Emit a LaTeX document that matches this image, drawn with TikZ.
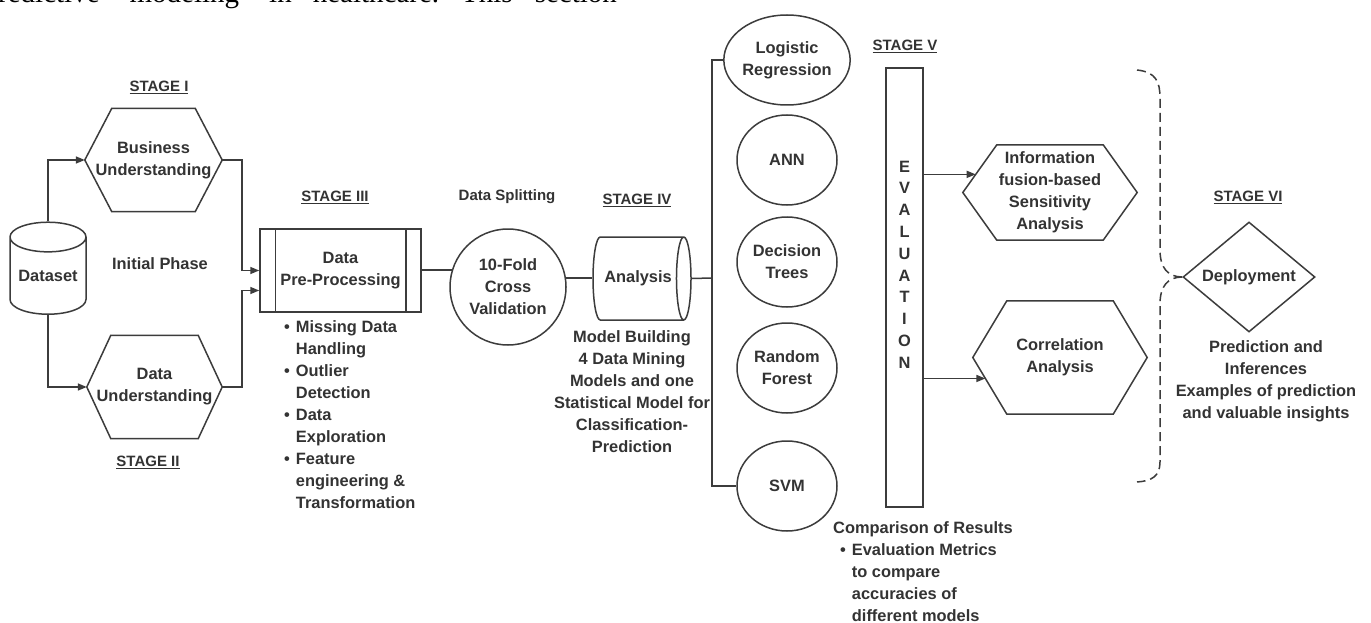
\documentclass[tikz,border=0pt]{standalone}
\usepackage{fontspec}
\setmainfont{Liberation Sans}
\newfontfamily\pageserif{Liberation Serif}
\usepackage{tikz}
\usetikzlibrary{positioning, arrows.meta, shapes.geometric, calc}
\definecolor{inkgray}{HTML}{333333}
\definecolor{edgegray}{HTML}{3C3C3C}
\newcommand{\bodyfont}{\fontsize{16.4}{22}\selectfont\bfseries}
\newcommand{\hexborder}[2]{%
  \draw [wire] (#1.west) -- ([xshift=#2]#1.north west) -- ([xshift=-#2]#1.north east)
    -- (#1.east) -- ([xshift=-#2]#1.south east) -- ([xshift=#2]#1.south west) -- cycle;}
\tikzstyle{wire} = [draw=edgegray, line width=1.5pt]
\tikzstyle{hexblock} = [rectangle, text=inkgray, font=\bodyfont, align=center, inner sep=0pt]
\tikzstyle{ellblock} = [ellipse, draw=edgegray, line width=1.5pt, text=inkgray, font=\bodyfont,
align=center, minimum width=100pt, minimum height=90pt, inner sep=0pt]
\tikzstyle{drumblock} = [cylinder, draw=edgegray, line width=1.5pt, text=inkgray, font=\bodyfont,
aspect=0.5, inner sep=0pt]
\tikzstyle{stagelabel} = [text=inkgray, font=\fontsize{15}{17}\selectfont\bfseries]
\tikzstyle{textnote} = [text=inkgray, font=\bodyfont, align=center, inner sep=0pt]
\tikzstyle{arrow} = [wire, -{Triangle[length=9pt,width=7pt]}]
\tikzstyle{brace} = [wire, dash pattern=on 9pt off 5pt]

\begin{document}
\begin{tikzpicture}[x=1pt, y=-1pt]
        \useasboundingbox [fill=white] (0,0) rectangle (1371,623);
        % page text cut at the top
        \node (pagetext) [anchor=base west, inner sep=0pt, text=black, font=\pageserif\fontsize{29}{30}\selectfont] at (-2,3)
                {redictive\hspace{30pt}modeling\hspace{30pt}in\hspace{21pt}healthcare.\hspace{22pt}This\hspace{22pt}section};
        % stages I and II
        \node (ds) [drumblock, shape border rotate=90, minimum width=76pt, minimum height=92pt] at (48,276) {Dataset};
        \node (bu) [hexblock, minimum width=137pt, minimum height=103pt] at (153.5,160) {Business\\Understanding};
        \node (du) [hexblock, minimum width=135pt, minimum height=103pt] at (154.5,387) {Data\\Understanding};
        \hexborder{bu}{27pt}
        \hexborder{du}{24pt}
        \node (st1) [stagelabel] at (159,87) {\underline{STAGE I}};
        \node (st2) [stagelabel] at (148,462) {\underline{STAGE II}};
        \node (phase) [textnote] at (160,264) {Initial Phase};
        % stage III
        \node (pp) [rectangle, draw=edgegray, line width=1.5pt, text=inkgray, font=\bodyfont, align=center,
                minimum width=161pt, minimum height=83pt] at (340.5,270.5) {Data\\Pre-Processing};
        \draw [wire] ([xshift=16pt]pp.north west) -- ([xshift=16pt]pp.south west);
        \draw [wire] ([xshift=-16pt]pp.north east) -- ([xshift=-16pt]pp.south east);
        \node (st3) [stagelabel] at (335,197) {\underline{STAGE III}};
        \node (ppnotes) [textnote, anchor=north west, align=left] at (284,317) {%
                \begin{tabular}{@{}l@{\hspace{6pt}}l@{}}
                \textbullet & Missing Data\\ & Handling\\
                \textbullet & Outlier\\ & Detection\\
                \textbullet & Data\\ & Exploration\\
                \textbullet & Feature\\ & engineering \&\\ & Transformation
                \end{tabular}};
        \node (cv) [circle, draw=edgegray, line width=1.5pt, text=inkgray, font=\bodyfont, align=center,
                minimum size=116pt, inner sep=0pt] at (508,287) {10-Fold\\Cross\\Validation};
        \node (split) [textnote, font=\fontsize{15}{18}\selectfont\bfseries] at (507,197) {Data Splitting};
        % stage IV
        \node (an) [drumblock, aspect=0.95, minimum width=83pt, minimum height=98pt] at (638,278.5) {Analysis};
        \node (st4) [stagelabel] at (637,200) {\underline{STAGE IV}};
        \node (build) [textnote] at (632,392) {Model Building\\4 Data Mining\\Models and one\\Statistical Model for\\Classification-\\Prediction};
        \node (lr) [ellblock] at (787,60) {Logistic\\Regression};
        \node (ann) [ellblock] at (787,160) {ANN};
        \node (dt) [ellblock] at (787,262) {Decision\\Trees};
        \node (rf) [ellblock] at (787,368) {Random\\Forest};
        \node (svm) [ellblock] at (787,486) {SVM};
        \coordinate (bus) at (712,278);
        % stage V
        \node (ev) [rectangle, draw=edgegray, line width=1.5pt, minimum width=37pt, minimum height=439pt] at (904.5,287.5) {};
        \node (evword) [textnote, font=\fontsize{16.4}{21.8}\selectfont\bfseries] at (904.5,264.5) {E\\V\\A\\L\\U\\A\\T\\I\\O\\N};
        \node (st5) [stagelabel] at (905,46) {\underline{STAGE V}};
        \node (cmp) [textnote, anchor=north west, align=left] at (833,518) {%
                \begin{tabular}{@{\hspace{7pt}}l@{\hspace{6pt}}l@{}}
                \multicolumn{2}{@{}l@{}}{Comparison of Results}\\
                \textbullet & Evaluation Metrics\\ & to compare\\ & accuracies of\\ & different models
                \end{tabular}};
        \node (info) [hexblock, minimum width=174pt, minimum height=95pt] at (1050,192.5) {Information\\fusion-based\\Sensitivity\\Analysis};
        \node (corr) [hexblock, minimum width=174pt, minimum height=113pt] at (1060,357.5) {Correlation\\Analysis};
        \hexborder{info}{34pt}
        \hexborder{corr}{34pt}
        \coordinate (infoin) at ($(info.west)!0.38!([xshift=34pt]info.north west)$);
        \coordinate (corrin) at ($(corr.west)!0.37!([xshift=34pt]corr.south west)$);
        % stage VI
        \node (dep) [diamond, draw=edgegray, line width=1.5pt, text=inkgray, font=\bodyfont, aspect=1.2,
                minimum width=132pt, minimum height=110pt, inner sep=0pt] at (1249,277) {Deployment};
        \node (st6) [stagelabel] at (1248,197) {\underline{STAGE VI}};
        \node (depnotes) [textnote] at (1266,381) {Prediction and\\Inferences\\Examples of prediction\\and valuable insights};
        \coordinate (bracetop) at (1137,70);
        \coordinate (bracebot) at (1137,482);
        % connectors
        \draw [arrow] (ds.north) |- (bu.west);
        \draw [arrow] (ds.south) |- (du.west);
        \draw [arrow] (bu.east) -- ++(20,0) |- (pp.west);
        \draw [arrow] (du.east) -- ++(20,0) |- ([yshift=-20pt]pp.west);
        \draw [wire] (pp.east |- cv.163) -- (cv.163);
        \draw [wire] (cv.9) -- (cv.9 -| an.west);
        \draw [wire] (an.east) -- (bus);
        \draw [wire] (lr.west) -- (lr.west -| bus) -- (svm.west -| bus) -- (svm.west);
        \draw [arrow] (ev.east |- infoin) -- (infoin);
        \draw [arrow] (ev.east |- corrin) -- (corrin);
        \draw [brace] (bracetop) .. controls (1156,72) and (1160,82) .. (1160,98) -- (1160,250)
                .. controls (1160,268) and (1168,277) .. (dep.west);
        \draw [brace] (dep.west) .. controls (1168,277) and (1160,286) .. (1160,304) -- (1160,462)
                .. controls (1160,476) and (1152,481) .. (bracebot);
\end{tikzpicture}
\end{document}
